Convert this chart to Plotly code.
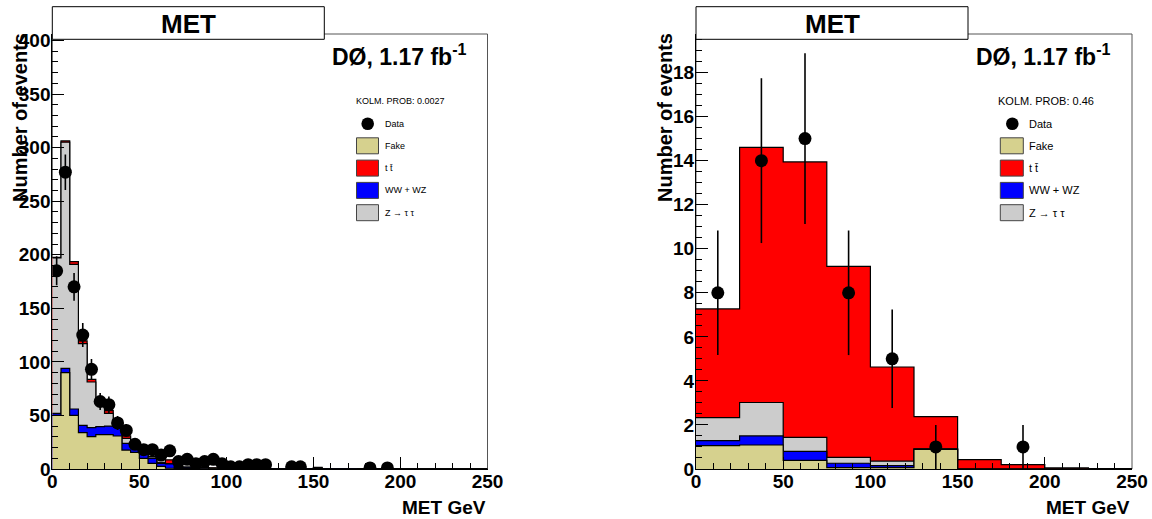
import numpy as np
import plotly.graph_objects as go

W, H = 1152, 519
FONT = "Liberation Sans"

# ---------------- left panel: MET in 5 GeV bins ----------------
edges_l = np.arange(0, 255, 5)
data_l = [185, 277, 170, 125, 93, 63, 60, 43, 36, 23,
          18, 18, 13, 17, 7, 9, 5, 7, 9, 5,
          2, 2, 4, 4, 4, 0, 0, 2, 2, 0,
          0, 0, 0, 0, 0, 0, 1, 0, 1, 0,
          0, 0, 0, 0, 0, 0, 0, 0, 0, 0]
fake_l = [50, 90, 50, 33.9, 30.2, 32, 32, 30.8, 17.7, 15.5,
          10, 5.3, 2.5, 0.7, 0.4, 0.3, 0.2, 0.2, 0.2, 0.1,
          0.1, 0.1, 0.1, 0.1, 0.1, 0.05, 0.05, 0.05, 0.05, 0.05,
          0.3, 0.05, 0.02, 0.02, 0.02, 0.02, 0.02, 0.02, 0.02, 0.02,
          0, 0, 0, 0, 0, 0, 0, 0, 0, 0]
ww_l = [2, 4, 6, 6.8, 8.4, 7.5, 8.1, 9.3, 6.3, 5.3,
        4.6, 4.7, 2.8, 4.0, 1.0, 0.8, 0.6, 0.5, 0.4, 0.4,
        0.3, 0.3, 0.3, 0.3, 0.3, 0.2, 0.2, 0.2, 0.2, 0.2,
        0.5, 0.1, 0.1, 0.1, 0.1, 0.05, 0.05, 0.05, 0.05, 0.05,
        0.02, 0.02, 0.02, 0.02, 0.02, 0.02, 0.02, 0.02, 0.02, 0.02]
z_l = [145, 211, 135, 76.3, 42.6, 21, 11.9, 4, 4.6, 1.6,
       1.4, 1.2, 0.5, 0.2, 0.3, 0.2, 0.1, 0.1, 0.1, 0.1,
       0.05, 0.05, 0.05, 0.05, 0.05, 0.02, 0.02, 0.02, 0.02, 0.02,
       0, 0, 0, 0, 0, 0, 0, 0, 0, 0,
       0, 0, 0, 0, 0, 0, 0, 0, 0, 0]
tt_l = [0.5, 1.2, 2.5, 2.5, 2.5, 2.5, 2.4, 2.0, 2.4, 0.6,
        0.5, 0.4, 0.4, 3.7, 0.8, 0.6, 0.5, 0.5, 0.4, 0.4,
        0.3, 0.3, 0.3, 0.3, 0.3, 0.2, 0.2, 0.2, 0.2, 0.2,
        0.8, 0.1, 0.1, 0.1, 0.1, 0.1, 0.05, 0.05, 0.05, 0.05,
        0.02, 0.02, 0.02, 0.02, 0.02, 0.02, 0.02, 0.02, 0.02, 0.02]

# ---------------- right panel: MET in 25 GeV bins ----------------
edges_r = np.arange(0, 275, 25)
data_r = [8, 14, 15, 8, 5, 1, 0, 1, 0, 0]
fake_r = [1.06, 1.09, 0.39, 0.06, 0.06, 0.89, 0, 0, 0, 0]
ww_r = [0.23, 0.41, 0.41, 0.20, 0.09, 0.01, 0, 0, 0, 0]
z_r = [1.04, 1.52, 0.64, 0.27, 0.21, 0.02, 0, 0, 0, 0]
tt_r = [4.94, 11.58, 12.5, 8.67, 4.27, 1.46, 0.43, 0.2, 0.05, 0.02]

kolm_l = "KOLM. PROB: 0.0027"
kolm_r = "KOLM. PROB: 0.46"

COL_FAKE = "rgb(214,209,142)"
COL_TT = "rgb(255,0,0)"
COL_WW = "rgb(0,0,255)"
COL_Z = "rgb(204,204,204)"

legend_rows = [("Fake", COL_FAKE), ("t t\u0304", COL_TT),
               ("WW + WZ", COL_WW), ("Z \u2192 \u03c4 \u03c4", COL_Z)]


def px(x):
    return x / W


def py(y):
    return 1 - y / H


fig = go.Figure()


def add_panel(ax, edges, data, fake, ww, z, tt):
    xa, ya = ("x", "y") if ax == 1 else ("x2", "y2")
    edges = np.asarray(edges, float)
    fake = np.asarray(fake, float)
    ww = np.asarray(ww, float)
    z = np.asarray(z, float)
    tt = np.asarray(tt, float)
    c_fake = fake
    c_ww = c_fake + ww
    c_z = c_ww + z
    c_tt = c_z + tt
    # stacked histogram: draw cumulative layers from the top down
    for cum, col in [(c_tt, COL_TT), (c_z, COL_Z), (c_ww, COL_WW), (c_fake, COL_FAKE)]:
        fig.add_trace(go.Scatter(
            x=edges, y=np.append(cum, cum[-1]),
            mode="lines", line=dict(shape="hv", color="black", width=1.2),
            fill="tozeroy", fillcolor=col, xaxis=xa, yaxis=ya,
            showlegend=False, hoverinfo="skip"))
    data = np.asarray(data, float)
    centers = 0.5 * (edges[:-1] + edges[1:])
    m = data > 0
    fig.add_trace(go.Scatter(
        x=centers[m], y=data[m], mode="markers",
        marker=dict(color="black", size=13, symbol="circle"),
        error_y=dict(type="data", array=np.sqrt(data[m]), visible=True,
                     color="black", thickness=1.6, width=0),
        xaxis=xa, yaxis=ya, showlegend=False))


add_panel(1, edges_l, data_l, fake_l, ww_l, z_l, tt_l)
add_panel(2, edges_r, data_r, fake_r, ww_r, z_r, tt_r)

tickfont = dict(family=FONT, size=19, color="black", weight="bold")


def xaxis_cfg(x0, x1):
    return dict(domain=[px(x0), px(x1)], range=[0, 250], anchor=None,
                tickmode="linear", tick0=0, dtick=50, ticks="inside",
                ticklen=12, tickwidth=1, tickcolor="black",
                minor=dict(ticks="inside", ticklen=6, dtick=10, tick0=0,
                           tickcolor="black", tickwidth=1),
                showline=True, linecolor="black", linewidth=1,
                showgrid=False, zeroline=False, tickfont=tickfont,
                ticklabelstandoff=-5)


def yaxis_cfg(top, dtick, minor):
    return dict(domain=[py(469), py(34)], range=[0, top],
                tickmode="linear", tick0=0, dtick=dtick, ticks="inside",
                ticklen=12, tickwidth=1, tickcolor="black",
                minor=dict(ticks="inside", ticklen=6, dtick=minor, tick0=0,
                           tickcolor="black", tickwidth=1),
                showline=True, linecolor="black", linewidth=1,
                showgrid=False, zeroline=False, tickfont=tickfont,
                ticklabelstandoff=-3)


xl = xaxis_cfg(52.3, 487.5)
xl["anchor"] = "y"
xr = xaxis_cfg(696, 1132)
xr["anchor"] = "y2"
yl = yaxis_cfg(406, 50, 10)
yl["anchor"] = "x"
yr = yaxis_cfg(19.75, 2, 0.5)
yr["anchor"] = "x2"

shapes = []
annotations = []


def decorate(xd, yd, left, right, kolm, leg_font, box_x0, box_w, mk_x, text_x, kolm_x):
    # frame box
    shapes.append(dict(type="rect", xref=xd + " domain", yref=yd + " domain",
                       x0=0, x1=1, y0=0, y1=1, line=dict(color="#555", width=1),
                       layer="below"))
    # title box
    tb_r = left + 272
    shapes.append(dict(type="rect", xref="paper", yref="paper",
                       x0=px(left), x1=px(tb_r), y0=py(39.3), y1=py(6.7),
                       fillcolor="white", line=dict(color="black", width=1),
                       layer="above"))
    annotations.append(dict(xref="paper", yref="paper", x=px((left + tb_r) / 2), y=py(24),
                            text="<b>MET</b>", showarrow=False,
                            font=dict(family=FONT, size=26, color="black"),
                            xanchor="center", yanchor="middle"))
    annotations.append(dict(xref="paper", yref="paper", x=px(right - 19), y=py(55),
                            text="<b>D\u00d8, 1.17 fb<sup>-1</sup></b>", showarrow=False,
                            font=dict(family=FONT, size=23, color="black"),
                            xanchor="right", yanchor="middle"))
    annotations.append(dict(xref="paper", yref="paper", x=px(kolm_x), y=py(100.5),
                            text=kolm, showarrow=False,
                            font=dict(family=FONT, size=leg_font, color="black"),
                            xanchor="center", yanchor="middle"))
    # legend: data marker
    r = 6.3
    shapes.append(dict(type="circle", xref="paper", yref="paper",
                       x0=px(mk_x - r), x1=px(mk_x + r), y0=py(123.8 + r), y1=py(123.8 - r),
                       fillcolor="black", line=dict(color="black", width=0), layer="above"))
    annotations.append(dict(xref="paper", yref="paper", x=px(text_x), y=py(123.8),
                            text="Data", showarrow=False,
                            font=dict(family=FONT, size=leg_font, color="black"),
                            xanchor="left", yanchor="middle"))
    for i, (lab, col) in enumerate(legend_rows):
        yc = 145.8 + 22.3 * i
        shapes.append(dict(type="rect", xref="paper", yref="paper",
                           x0=px(box_x0), x1=px(box_x0 + box_w), y0=py(yc + 8), y1=py(yc - 8),
                           fillcolor=col, line=dict(color="#444", width=1), layer="above"))
        annotations.append(dict(xref="paper", yref="paper", x=px(text_x), y=py(yc),
                                text=lab, showarrow=False,
                                font=dict(family=FONT, size=leg_font, color="black"),
                                xanchor="left", yanchor="middle"))
    # axis titles
    annotations.append(dict(xref="paper", yref="paper", x=px(right), y=py(507),
                            text="<b>MET GeV</b>", showarrow=False,
                            font=dict(family=FONT, size=19, color="black"),
                            xanchor="right", yanchor="middle"))


decorate("x", "y", 52.3, 487.5, kolm_l, 9, 356.5, 22, 367.7, 382.5, 400)
decorate("x2", "y2", 696, 1132, kolm_r, 11, 1000.3, 23, 1012.3, 1026.7, 1046)

annotations.append(dict(xref="paper", yref="paper", x=px(20), y=py(118),
                        text="<b>Number of events</b>", textangle=-90, showarrow=False,
                        font=dict(family=FONT, size=20, color="black"),
                        xanchor="center", yanchor="middle"))
annotations.append(dict(xref="paper", yref="paper", x=px(665), y=py(118),
                        text="<b>Number of events</b>", textangle=-90, showarrow=False,
                        font=dict(family=FONT, size=20, color="black"),
                        xanchor="center", yanchor="middle"))

fig.update_layout(
    width=W, height=H, margin=dict(l=0, r=0, t=0, b=0, autoexpand=False),
    paper_bgcolor="white", plot_bgcolor="white",
    xaxis=xl, yaxis=yl, xaxis2=xr, yaxis2=yr,
    shapes=shapes, annotations=annotations, showlegend=False,
)

# page without body margin or scrollbars so the figure fills the window exactly
fig.write_html(
    "out.html",
    post_script="document.body.style.margin='0';document.body.style.overflow='hidden';",
)
